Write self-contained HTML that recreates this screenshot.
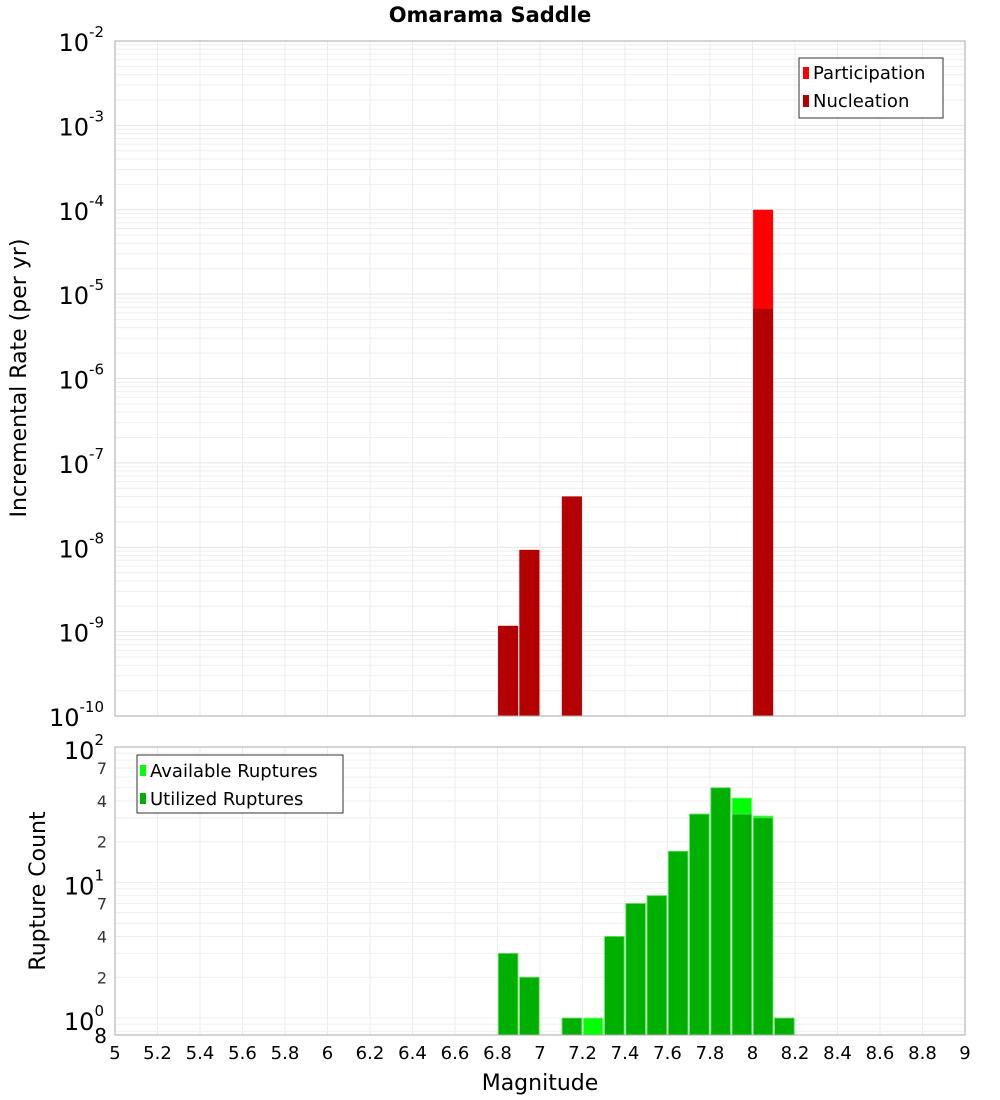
<!DOCTYPE html>
<html><head><meta charset="utf-8"><style>
html,body{margin:0;padding:0;background:#fff;width:1000px;height:1100px;overflow:hidden}
svg text{font-family:"DejaVu Sans","Liberation Sans",sans-serif}
</style></head><body>
<svg id="chart" width="1000" height="1100" xmlns="http://www.w3.org/2000/svg"></svg>
<script>
const binCenters=[6.85,6.95,7.15,8.05];
const participation=[1.17e-9,9.3e-9,4.0e-8,1.0e-4];
const nucleation=[1.17e-9,9.3e-9,4.0e-8,6.7e-6];
const countBins=[6.85,6.95,7.15,7.25,7.35,7.45,7.55,7.65,7.75,7.85,7.95,8.05,8.15];
const available=[3,2,1,1,4,7,8,17,32,50,42,31,1];
const utilized=[3,2,1,0,4,7,8,17,32,50,32,30,1];
const xTicks=[5,5.2,5.4,5.6,5.8,6,6.2,6.4,6.6,6.8,7,7.2,7.4,7.6,7.8,8,8.2,8.4,8.6,8.8,9];
const topExps=[-2,-3,-4,-5,-6,-7,-8,-9,-10];
const botMinor=[2,4,7,20,40,70];

const NS="http://www.w3.org/2000/svg";
const svg=document.getElementById('chart');
function el(tag,attrs,parent,text){const e=document.createElementNS(NS,tag);for(const k in attrs)e.setAttribute(k,attrs[k]);if(text!==undefined)e.textContent=text;(parent||svg).appendChild(e);return e;}
const L=115,R=965,T1=41,B1=716,T2=747,B2=1035;
const xS=v=>L+(v-5)/4*(R-L);
const y1=v=>T1+(-2-Math.log10(v))/8*(B1-T1);
const y2=v=>B2-(Math.log10(v)+0.125)/2.125*(B2-T2);

// title
let t=el('text',{x:490,y:22,'text-anchor':'middle','font-size':21,'font-weight':'bold'},svg,'Omarama Saddle');


// top panel
const g1=el('g',{});
el('rect',{x:L,y:T1,width:R-L,height:B1-T1,fill:'#fff'},g1);
for(let e=-10;e<-2;e++){for(let m=2;m<=9;m++){const yy=y1(m*Math.pow(10,e));el('line',{x1:L,x2:R,y1:yy,y2:yy,stroke:'#efefef','stroke-width':1},g1);}}
topExps.forEach(e=>{const yy=y1(Math.pow(10,e));el('line',{x1:L,x2:R,y1:yy,y2:yy,stroke:'#e4e4e4'},g1);
 const lb=el('text',{x:104,y:yy+10,'text-anchor':'end','font-size':24},g1);
 lb.textContent='10';const s=el('tspan',{dy:-14,'font-size':15},lb,String(e));});
xTicks.forEach(v=>{el('line',{x1:xS(v),x2:xS(v),y1:T1,y2:B1,stroke:'#ececec'},g1);el('line',{x1:xS(v),x2:xS(v),y1:T2,y2:B2,stroke:'#ececec'});});
const bw=0.094/4*(R-L);
binCenters.forEach((c,i)=>{
 const r=el('rect',{x:xS(c)-bw/2,y:y1(participation[i]),width:bw,height:B1-y1(participation[i]),fill:'#ff0000'},g1);
 
 const n=el('rect',{x:xS(c)-bw/2,y:y1(nucleation[i]),width:bw,height:B1-y1(nucleation[i]),fill:'#b30000'},g1);
 
});
el('rect',{x:L,y:T1,width:R-L,height:B1-T1,fill:'none',stroke:'#aaa'},g1);
const lg1=el('g',{});
el('rect',{x:799,y:58,width:144,height:60,fill:'#fff',stroke:'#333'},lg1);
el('rect',{x:803,y:67,width:6,height:12,fill:'#ff0000'},lg1);
el('text',{x:813,y:79,'font-size':18},lg1,'Participation');
el('rect',{x:803,y:95,width:6,height:12,fill:'#b30000'},lg1);
el('text',{x:813,y:107,'font-size':18},lg1,'Nucleation');
t=el('text',{x:0,y:0,'font-size':22,'text-anchor':'middle',transform:'translate(26,378) rotate(-90)'},svg,'Incremental Rate (per yr)');


// bottom panel
const g2=el('g',{});
for(let e=-1;e<2;e++){for(let m=1;m<=9;m++){const v=m*Math.pow(10,e);if(v<0.75)continue;el('line',{x1:L,x2:R,y1:y2(v),y2:y2(v),stroke:'#efefef'},g2);}}
[1,10,100].forEach((v,i)=>{const lb=el('text',{x:104,y:y2(v)+12,'text-anchor':'end','font-size':24},g2);lb.textContent='10';el('tspan',{dy:-14,'font-size':15},lb,String(i));});
botMinor.forEach(v=>{el('text',{x:107,y:y2(v)+6,'text-anchor':'end','font-size':16,fill:'#333'},g2,String(v<10?v:v/10));});
el('text',{x:107,y:1043,'text-anchor':'end','font-size':20},g2,'8');
const bw2=0.092/4*(R-L);
countBins.forEach((c,i)=>{
 if(available[i]>0){const a=el('rect',{x:xS(c)-bw2/2,y:y2(available[i]),width:bw2,height:B2-y2(available[i]),fill:'#00ff00',stroke:'#7dff7d','stroke-width':0.8},g2);
 }
 if(utilized[i]>0){const u=el('rect',{x:xS(c)-bw2/2,y:y2(utilized[i]),width:bw2,height:B2-y2(utilized[i]),fill:'#00b000',stroke:'#66dd66','stroke-width':0.8},g2);
 }
});
el('rect',{x:L,y:T2,width:R-L,height:B2-T2,fill:'none',stroke:'#aaa'},g2);
const lg2=el('g',{});
el('rect',{x:137,y:755,width:206,height:58,fill:'#fff',stroke:'#333'},lg2);
el('rect',{x:140,y:765,width:6,height:11,fill:'#00ff00'},lg2);
el('text',{x:150,y:777,'font-size':18},lg2,'Available Ruptures');
el('rect',{x:140,y:793,width:6,height:11,fill:'#00b000'},lg2);
el('text',{x:150,y:805,'font-size':18},lg2,'Utilized Ruptures');
t=el('text',{x:0,y:0,'font-size':22,'text-anchor':'middle',transform:'translate(45,891) rotate(-90)'},svg,'Rupture Count');


xTicks.forEach(v=>{const lb=el('text',{x:xS(v),y:1059,'text-anchor':'middle','font-size':18},svg,String(v));});
t=el('text',{x:540,y:1090,'text-anchor':'middle','font-size':22},svg,'Magnitude');

</script>
</body></html>
